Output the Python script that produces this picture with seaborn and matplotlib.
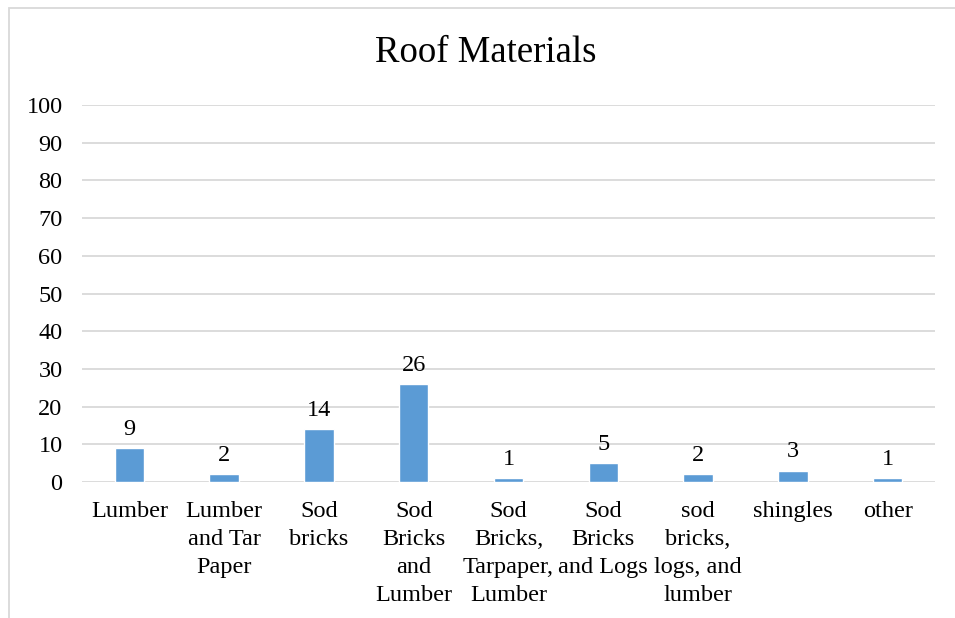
import matplotlib
matplotlib.use("Agg")
import matplotlib.pyplot as plt
import seaborn as sns
import pandas as pd
from matplotlib.patches import Rectangle

categories = [
    "Lumber",
    "Lumber\nand Tar\nPaper",
    "Sod\nbricks",
    "Sod\nBricks\nand\nLumber",
    "Sod\nBricks,\nTarpaper,\nLumber",
    "Sod\nBricks\nand Logs",
    "sod\nbricks,\nlogs, and\nlumber",
    "shingles",
    "other",
]
counts = [9, 2, 14, 26, 1, 5, 2, 3, 1]
y_ticks = list(range(0, 101, 10))

df = pd.DataFrame({"material": categories, "count": counts})

sns.set_theme(style="white")
plt.rcParams["font.family"] = ["Liberation Serif", "DejaVu Serif"]

W, H = 955, 618
fig = plt.figure(figsize=(W / 100, H / 100), dpi=100)
ax = fig.add_axes([82 / W, 1 - 482 / H, (935 - 82) / W, (482 - 105) / H])

sns.barplot(data=df, x="material", y="count", color="#5B9BD5",
            saturation=1, width=0.31, ax=ax, zorder=3)

ax.set_ylim(0, 100)
ax.set_xlim(-0.5, len(categories) - 0.5)
ax.set_yticks(y_ticks)
ax.yaxis.grid(True, color="#D9D9D9", linewidth=1.3, zorder=0)
ax.set_axisbelow(True)
for s in ax.spines.values():
    s.set_visible(False)
ax.set_xlabel("")
ax.set_ylabel("")
ax.set_xticks(range(len(categories)))
ax.set_xticklabels(categories, linespacing=1.42, va="top")
ax.tick_params(axis="both", length=0, labelsize=17.5, colors="black")
ax.tick_params(axis="y", pad=14)
ax.tick_params(axis="x", pad=14)

ax.bar_label(ax.containers[0], labels=[str(v) for v in counts],
             padding=6, fontsize=17.5, color="black")

fig.suptitle("Roof Materials", x=486 / W, y=1 - 36 / H, fontsize=26.5,
             color="black", va="top")

# chart frame
fig.patches.append(Rectangle((8.5 / W, -0.1), 1.2, 1 - 8.5 / H + 0.1,
                             transform=fig.transFigure, fill=False,
                             edgecolor="#D9D9D9", linewidth=1.3))

fig.savefig("out.png", dpi=100, facecolor="white")
